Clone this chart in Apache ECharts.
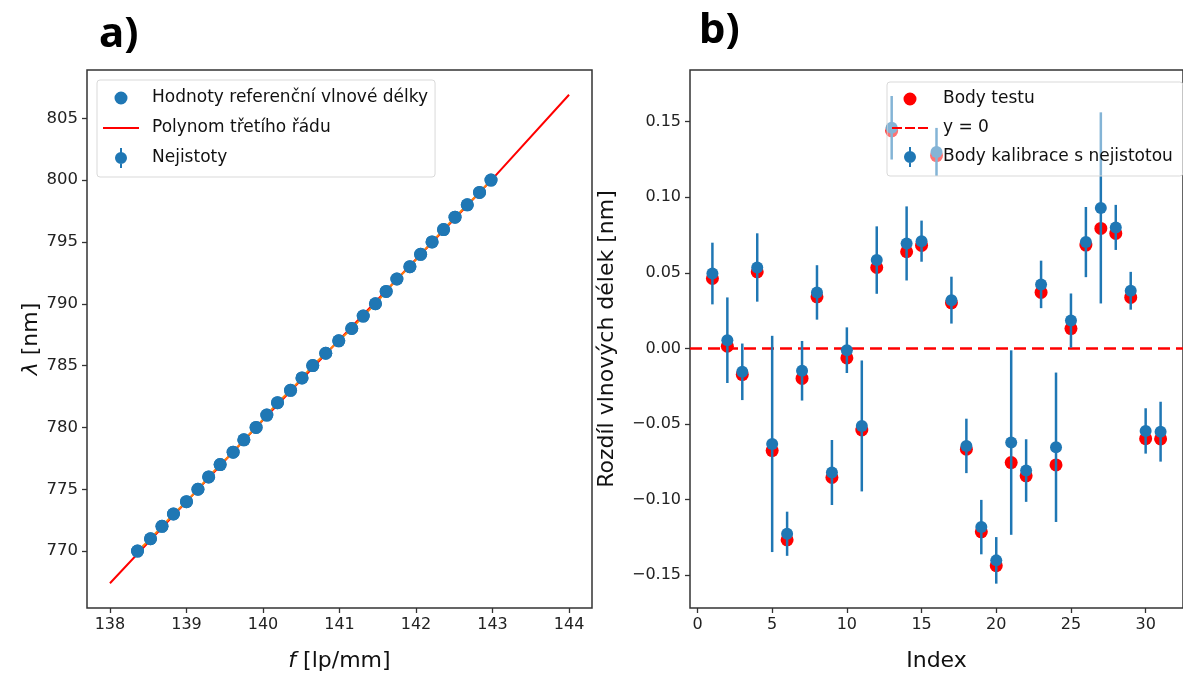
<!DOCTYPE html>
<html>
<head>
<meta charset="utf-8">
<script src="https://cdn.jsdelivr.net/npm/echarts@6.0.0/dist/echarts.min.js"></script>
<style>
html, body { margin: 0; padding: 0; background: #fff; }
#chart { width: 1183px; height: 677px; }
</style>
</head>
<body>
<div id="chart"></div>
<script>
// a) referencni vlnove delky vs. prostorova frekvence
var refFreq = [138.36, 138.53, 138.68, 138.83, 139.00, 139.15, 139.29, 139.44, 139.61, 139.75,
	139.91, 140.05, 140.19, 140.36, 140.51, 140.65, 140.82, 140.99, 141.16, 141.31,
	141.47, 141.61, 141.75, 141.92, 142.06, 142.21, 142.36, 142.51, 142.67, 142.83, 142.98];
var refLambda = [770, 771, 772, 773, 774, 775, 776, 777, 778, 779,
	780, 781, 782, 783, 784, 785, 786, 787, 788, 789,
	790, 791, 792, 793, 794, 795, 796, 797, 798, 799, 800];
var fitFreq = [138, 139, 140, 141, 142, 143, 144];
var fitLambda = [767.4, 774.0, 780.6, 787.1, 793.6, 800.1, 806.9];
var xTicksA = [138, 139, 140, 141, 142, 143, 144];
var yTicksA = [770, 775, 780, 785, 790, 795, 800, 805];

// b) rozdily vlnovych delek
var pointIndex = [1, 2, 3, 4, 5, 6, 7, 8, 9, 10, 11, 12, 13, 14, 15, 16,
	17, 18, 19, 20, 21, 22, 23, 24, 25, 26, 27, 28, 29, 30, 31];
var testDiff = [0.0463, 0.0015, -0.0172, 0.0507, -0.0675, -0.1265, -0.0198, 0.0342, -0.0853, -0.0062,
	-0.0539, 0.0536, 0.1440, 0.0640, 0.0682, 0.1276, 0.0302, -0.0666, -0.1212, -0.1436,
	-0.0754, -0.0842, 0.0371, -0.0770, 0.0132, 0.0684, 0.0794, 0.0761, 0.0338, -0.0596, -0.0598];
var calibDiff = [0.0496, 0.0055, -0.0154, 0.0536, -0.0631, -0.1225, -0.0147, 0.0371, -0.0820, -0.0011,
	-0.0512, 0.0585, 0.1460, 0.0695, 0.0710, 0.1300, 0.0320, -0.0644, -0.1181, -0.1401,
	-0.0622, -0.0807, 0.0424, -0.0653, 0.0185, 0.0704, 0.0930, 0.0801, 0.0382, -0.0545, -0.0550];
var calibErr = [0.0204, 0.0283, 0.0187, 0.0226, 0.0715, 0.0146, 0.0197, 0.0180, 0.0215, 0.0151,
	0.0433, 0.0223, 0.0210, 0.0245, 0.0136, 0.0159, 0.0155, 0.0180, 0.0180, 0.0154,
	0.0610, 0.0207, 0.0157, 0.0494, 0.0179, 0.0232, 0.0632, 0.0149, 0.0125, 0.0150, 0.0198];
var xLimB = [-0.5, 32.5];
var xTicksB = [0, 5, 10, 15, 20, 25, 30];
var yTicksB = [-0.15, -0.10, -0.05, 0, 0.05, 0.10, 0.15];

var FONT = '"DejaVu Sans", sans-serif';
var BLUE = '#1f77b4';
var RED = '#ff0000';
var ORANGE = '#ff7f0e';

function zip(a, b) {
	var out = [];
	for (var i = 0; i < a.length; i++) {
		out.push([a[i], b[i]]);
	}
	return out;
}

var errData = [];
for (var i = 0; i < pointIndex.length; i++) {
	errData.push([pointIndex[i], calibDiff[i] - calibErr[i], calibDiff[i] + calibErr[i]]);
}

// ikony legendy (box 36x20, krajni body drzi rozmer)
var EDGE = 'M0,0L0.01,0L0,0.01Z M36,20L35.99,20L36,19.99Z ';
var ICON_DOT = 'path://' + EDGE + 'M11.5,10A6.5,6.5,0,1,1,24.5,10A6.5,6.5,0,1,1,11.5,10Z';
var ICON_LINE = 'path://' + EDGE + 'M0,9H36V11H0Z';
var ICON_DASH = 'path://' + EDGE + 'M0,9H10V11H0Z M13,9H23V11H13Z M26,9H36V11H26Z';
var ICON_ERR = 'path://' + EDGE + 'M12,10A6,6,0,1,1,24,10A6,6,0,1,1,12,10Z M17,0H19V4.2H17Z M17,15.8H19V20H17Z';

function fmtB(v) {
	var s = Math.abs(v).toFixed(2);
	return v < -1e-9 ? '\u2212' + s : s;
}

var axisCommon = {
	type: 'value',
	splitLine: { show: false },
	axisLine: { show: false, onZero: false },
	nameLocation: 'middle',
	nameTextStyle: { fontFamily: FONT, fontSize: 22, color: '#111' }
};

function axis(extra) {
	return echarts.util.merge(echarts.util.clone(axisCommon), extra, true);
}

var myChart = echarts.init(document.getElementById('chart'));
var option = {
	animation: false,
	backgroundColor: '#fff',
	graphic: [
		{ type: 'text', left: 99, top: 14, style: { text: 'a)', font: 'bold 42px "Noto Sans", sans-serif', fill: '#000' } },
		{ type: 'text', left: 699, top: 10, style: { text: 'b)', font: 'bold 42px "Noto Sans", sans-serif', fill: '#000' } }
	],
	grid: [
		{ left: 87, top: 70, width: 505, height: 538, show: true, borderColor: '#333', borderWidth: 1.5 },
		{ left: 690, top: 70, width: 502, height: 538, show: true, borderColor: '#333', borderWidth: 1.5 }
	],
	legend: [
		{
			orient: 'vertical', left: 97, top: 80, z: 10,
			padding: [8, 7, 9, 6], itemGap: 10, itemWidth: 36, itemHeight: 20,
			backgroundColor: 'rgba(255,255,255,0.8)', borderColor: '#d9d9d9', borderWidth: 1, borderRadius: 3,
			itemStyle: { borderWidth: 0 },
			textStyle: { fontFamily: FONT, fontSize: 17, color: '#111', lineHeight: 20, padding: [0, 0, 0, 8] },
			data: [
				{ name: 'Hodnoty referenční vlnové délky', icon: ICON_DOT },
				{ name: 'Polynom třetího řádu', icon: ICON_LINE },
				{ name: 'Nejistoty', icon: ICON_ERR }
			]
		},
		{
			orient: 'vertical', left: 887, top: 82, z: 10,
			padding: [7, 10, 9, 5], itemGap: 9, itemWidth: 36, itemHeight: 20,
			backgroundColor: 'rgba(255,255,255,0.45)', borderColor: '#d9d9d9', borderWidth: 1, borderRadius: 3,
			itemStyle: { borderWidth: 0 },
			textStyle: { fontFamily: FONT, fontSize: 17, color: '#111', lineHeight: 20, padding: [0, 0, 0, 10] },
			data: [
				{ name: 'Body testu', icon: ICON_DOT },
				{ name: 'y = 0', icon: ICON_DASH },
				{ name: 'Body kalibrace s nejistotou', icon: ICON_ERR }
			]
		}
	],
	xAxis: [
		axis({
			gridIndex: 0, min: 137.7, max: 144.3,
			name: '{i|f} [lp/mm]', nameGap: 42,
			nameTextStyle: { rich: { i: { fontStyle: 'italic', fontFamily: FONT, fontSize: 22, color: '#111' } } },
			axisTick: { length: 5, lineStyle: { color: '#333', width: 1.3 }, customValues: xTicksA },
			axisLabel: { customValues: xTicksA, fontFamily: FONT, fontSize: 16, color: '#222', margin: 9 }
		}),
		axis({
			gridIndex: 1, min: xLimB[0], max: xLimB[1],
			name: 'Index', nameGap: 42,
			axisTick: { length: 5, lineStyle: { color: '#333', width: 1.3 }, customValues: xTicksB },
			axisLabel: { customValues: xTicksB, fontFamily: FONT, fontSize: 16, color: '#222', margin: 9 }
		})
	],
	yAxis: [
		axis({
			gridIndex: 0, min: 765.4, max: 808.9,
			name: '{i|λ} [nm]', nameGap: 34,
			nameTextStyle: { rich: { i: { fontStyle: 'italic', fontFamily: FONT, fontSize: 22, color: '#111' } } },
			axisTick: { length: 5, lineStyle: { color: '#333', width: 1.3 }, customValues: yTicksA },
			axisLabel: { customValues: yTicksA, fontFamily: FONT, fontSize: 16.5, color: '#222', margin: 9 }
		}),
		axis({
			gridIndex: 1, min: -0.1716, max: 0.1842,
			name: 'Rozdíl vlnových délek [nm]', nameGap: 72,
			axisTick: { length: 5, lineStyle: { color: '#333', width: 1.3 }, customValues: yTicksB },
			axisLabel: { customValues: yTicksB, formatter: fmtB, fontFamily: FONT, fontSize: 16, color: '#222', margin: 9 }
		})
	],
	series: [
		{
			name: 'Polynom třetího řádu', type: 'line', xAxisIndex: 0, yAxisIndex: 0,
			data: zip(fitFreq, fitLambda), showSymbol: false, z: 2,
			color: RED, lineStyle: { color: RED, width: 2 }
		},
		{
			name: 'spojnice', type: 'line', xAxisIndex: 0, yAxisIndex: 0,
			data: zip(refFreq, refLambda), showSymbol: false, z: 3,
			color: ORANGE, lineStyle: { color: ORANGE, width: 2 }
		},
		{
			name: 'Hodnoty referenční vlnové délky', type: 'scatter', xAxisIndex: 0, yAxisIndex: 0,
			data: zip(refFreq, refLambda), symbolSize: 13, z: 4,
			itemStyle: { color: BLUE, opacity: 1 }
		},
		{
			name: 'Nejistoty', type: 'scatter', xAxisIndex: 0, yAxisIndex: 0,
			data: zip(refFreq, refLambda), symbolSize: 13, z: 4,
			itemStyle: { color: BLUE, opacity: 1 }
		},
		{
			name: 'Body testu', type: 'scatter', xAxisIndex: 1, yAxisIndex: 1,
			data: zip(pointIndex, testDiff), symbolSize: 13, z: 2,
			itemStyle: { color: RED, opacity: 1 }
		},
		{
			name: 'y = 0', type: 'line', xAxisIndex: 1, yAxisIndex: 1,
			data: zip(xLimB, [0, 0]), showSymbol: false, z: 3,
			color: RED, lineStyle: { color: RED, width: 2.5, type: [12, 6] }
		},
		{
			name: 'Body kalibrace s nejistotou', type: 'custom', xAxisIndex: 1, yAxisIndex: 1,
			data: errData, z: 4, color: BLUE,
			encode: { x: 0, y: [1, 2] },
			renderItem: function(params, api) {
				var p1 = api.coord([api.value(0), api.value(1)]);
				var p2 = api.coord([api.value(0), api.value(2)]);
				return {
					type: 'line',
					shape: { x1: p1[0], y1: p1[1], x2: p2[0], y2: p2[1] },
					style: { stroke: BLUE, lineWidth: 2.5 }
				};
			}
		},
		{
			name: 'Body kalibrace s nejistotou', type: 'scatter', xAxisIndex: 1, yAxisIndex: 1,
			data: zip(pointIndex, calibDiff), symbolSize: 12, z: 5,
			itemStyle: { color: BLUE, opacity: 1 }
		}
	]
};
myChart.setOption(option);//vykresleni
</script>
</body>
</html>
